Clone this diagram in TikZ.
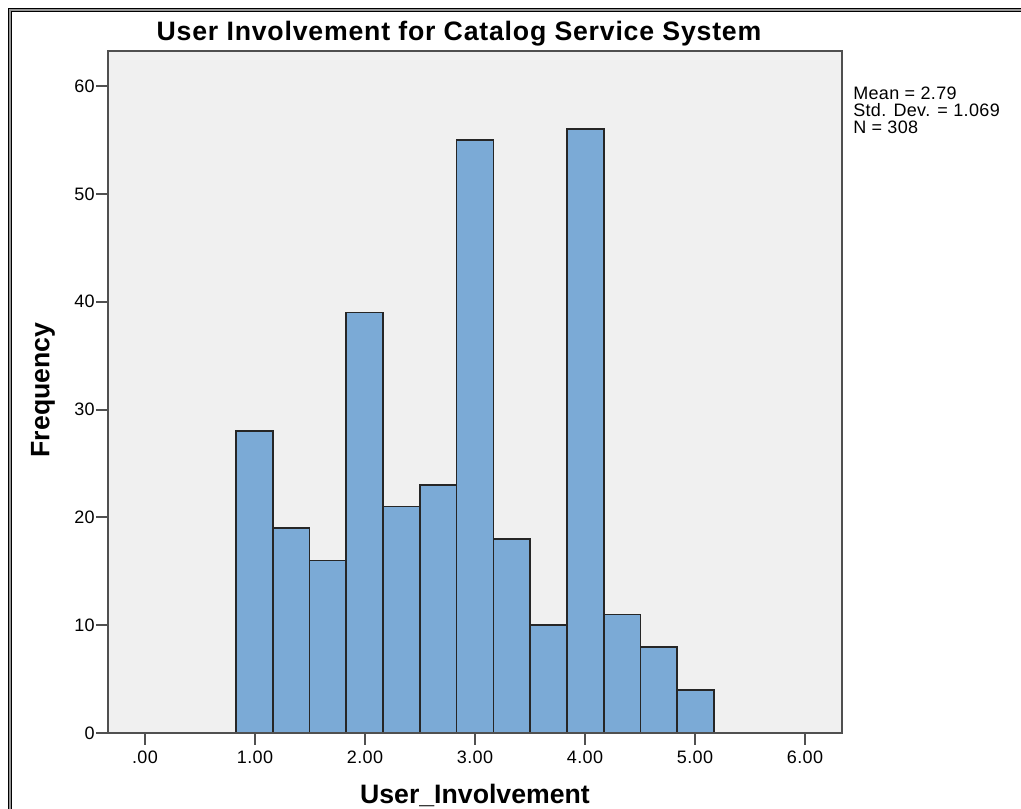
\documentclass[tikz,border=0pt]{standalone}
\usepackage{fontspec}
\setmainfont{Liberation Sans}
\definecolor{barfill}{RGB}{123,170,214}
\definecolor{plotbg}{RGB}{240,240,240}
\definecolor{axisgray}{RGB}{80,80,80}
\definecolor{framegray}{RGB}{150,150,150}
\begin{document}
\begin{tikzpicture}[x=0.75pt,y=-0.75pt,
  bar/.style={fill=barfill,draw=black!85,line width=1.3pt},
  tick/.style={draw=axisgray,line width=1.5pt},
  ticklabel/.style={font=\fontsize{13.5pt}{14pt}\selectfont\addfontfeatures{LetterSpace=2},inner sep=0pt},
  axistitle/.style={font=\fontsize{20pt}{24pt}\selectfont\bfseries,inner sep=0pt}]
\useasboundingbox (0,0) rectangle (1021,809);

% outer frame
\draw[framegray,line width=2.2pt] (10,809) -- (10,10) -- (1021,10);
\draw[black,line width=0.8pt] (8.5,809) -- (8.5,8.5) -- (1021,8.5);
\draw[black,line width=0.8pt] (11.8,809) -- (11.8,11.8) -- (1021,11.8);

% plot area
\fill[plotbg] (108,51) rectangle (842,733);

% histogram bars: bins of width 1/3 starting at 0.833
\foreach \f [count=\i from 0] in {28,19,16,39,21,23,55,18,10,56,11,8,4} {
  \pgfmathsetmacro{\xa}{236+\i*36.77}
  \pgfmathsetmacro{\xb}{\xa+36.77}
  \pgfmathsetmacro{\yt}{733-10.78*\f}
  \draw[bar] (\xa,733) rectangle (\xb,\yt);
}

\draw[draw=axisgray,line width=1.5pt] (108,51) rectangle (842,733);

% y axis ticks and labels
\foreach \v in {0,10,...,60} {
  \pgfmathsetmacro{\yy}{733-10.78*\v}
  \draw[tick] (96,\yy) -- (108,\yy);
  \node[ticklabel,anchor=east] (y\v) at (95,\yy) {\v};
}

% x axis ticks and labels
\foreach \v/\t in {0/.00,1/1.00,2/2.00,3/3.00,4/4.00,5/5.00,6/6.00} {
  \pgfmathsetmacro{\xx}{145+110*\v}
  \draw[tick] (\xx,733) -- (\xx,745);
  \node[ticklabel] (x\v) at (\xx,757) {\t};
}

% titles
\node[axistitle,font=\fontsize{20pt}{24pt}\selectfont\bfseries\addfontfeatures{LetterSpace=3}] (title) at (459,34) {User Involvement for Catalog Service System};
\node[axistitle] (xtitle) at (475,795) {User\_Involvement};
\node[axistitle,rotate=90] (ytitle) at (43,390) {Frequency};

% summary statistics
\node[ticklabel,anchor=north west,align=left,font=\fontsize{13.5pt}{12.5pt}\selectfont\addfontfeatures{LetterSpace=2}] (stats) at (853,87)
  {Mean = 2.79\\Std. Dev. = 1.069\\N = 308};
\end{tikzpicture}
\end{document}
